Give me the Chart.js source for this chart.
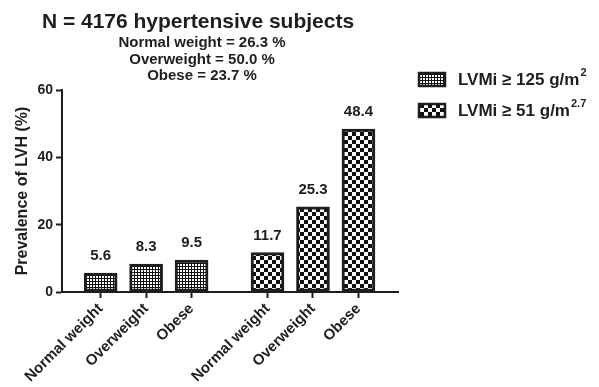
<!DOCTYPE html>
<html>
<head>
<meta charset="utf-8">
<script src="https://cdn.jsdelivr.net/npm/chart.js@4/dist/chart.umd.min.js"></script>
<style>
  html, body { margin: 0; padding: 0; background: #fff; }
  canvas { display: block; }
</style>
</head>
<body>
<canvas id="chart" width="599" height="387"></canvas>
<script>
// ---- data ----
const categories = ['Normal weight', 'Overweight', 'Obese'];
const lvmiBsaValues = [5.6, 8.3, 9.5];        // LVMi >= 125 g/m2
const lvmiHeightValues = [11.7, 25.3, 48.4];  // LVMi >= 51 g/m2.7
const seriesLabels = [['LVMi \u2265 125 g/m', '2'], ['LVMi \u2265 51 g/m', '2.7']];
const yTicks = [0, 20, 40, 60];
const titleText = 'N = 4176 hypertensive subjects';
const subtitleLines = ['Normal weight = 26.3 %', 'Overweight = 50.0 %', 'Obese = 23.7 %'];

// ---- layout constants ----
const FONT = "'Liberation Sans', Arial, Helvetica, sans-serif";
const INK = '#1e1e1e';
const GROUP_GAP = 0.67;          // extra slot width between the two groups
const W = 599, H = 387;
const PAD = { top: 90, right: 201, bottom: 2, left: 0 };
const PLOT_LEFT = 62, PLOT_BOTTOM = 292;

function slotOf(group, i) { return group * (categories.length + GROUP_GAP) + i + 1; }

// fill patterns
function makePattern(kind) {
  const c = document.createElement('canvas');
  const g = c.getContext('2d');
  if (kind === 'fine') {
    c.width = c.height = 3;
    g.fillStyle = '#111'; g.fillRect(0, 0, 3, 3);
    g.fillStyle = '#fff'; g.fillRect(0, 0, 2, 2);
  } else {
    c.width = c.height = 8;
    g.fillStyle = '#111'; g.fillRect(0, 0, 8, 8);
    g.fillStyle = '#fff'; g.fillRect(0, 0, 4, 4); g.fillRect(4, 4, 4, 4);
  }
  return document.getElementById('chart').getContext('2d').createPattern(c, 'repeat');
}
const patterns = [makePattern('fine'), makePattern('checker')];

const seriesValues = [lvmiBsaValues, lvmiHeightValues];
const datasets = seriesValues.map((vals, g) => ({
  label: seriesLabels[g].join(''),
  data: vals.map((v, i) => ({ x: slotOf(g, i), y: v })),
  backgroundColor: patterns[g],
  borderColor: INK,
  borderWidth: 3,
  borderSkipped: false,
  barThickness: 33,
  grouped: false
}));
const tickSlots = [];
const tickNames = [];
seriesValues.forEach((vals, g) => vals.forEach((v, i) => { tickSlots.push(slotOf(g, i)); tickNames.push(categories[i]); }));

// value labels above each bar
const valueLabels = {
  id: 'valueLabels',
  afterDatasetsDraw(chart) {
    const ctx = chart.ctx;
    ctx.save();
    ctx.font = `bold 15px ${FONT}`;
    ctx.fillStyle = INK;
    ctx.textAlign = 'center';
    ctx.textBaseline = 'middle';
    chart.data.datasets.forEach((ds, d) => {
      chart.getDatasetMeta(d).data.forEach((el, i) => {
        ctx.fillText(ds.data[i].y.toFixed(1), el.x, el.y - 17);
      });
    });
    ctx.restore();
  }
};

// headline text and legend with superscript units
const headerAndLegend = {
  id: 'headerAndLegend',
  afterDraw(chart) {
    const ctx = chart.ctx;
    ctx.save();
    ctx.fillStyle = INK;
    ctx.textAlign = 'center';
    ctx.textBaseline = 'middle';
    ctx.font = `bold 21px ${FONT}`;
    ctx.fillText(titleText, 198, 22);
    ctx.font = `bold 15px ${FONT}`;
    subtitleLines.forEach((t, i) => ctx.fillText(t, 202, 43 + i * 16.5));

    const rowsY = [80, 111];
    seriesLabels.forEach((lab, g) => {
      const y = rowsY[g];
      ctx.fillStyle = patterns[g];
      ctx.fillRect(419, y - 7, 26, 13);
      ctx.strokeStyle = INK;
      ctx.lineWidth = 2.5;
      ctx.strokeRect(419, y - 7, 26, 13);
      ctx.fillStyle = INK;
      ctx.textAlign = 'left';
      ctx.font = `bold 17px ${FONT}`;
      ctx.fillText(lab[0], 458, y);
      const w = ctx.measureText(lab[0]).width;
      ctx.font = `bold 11px ${FONT}`;
      ctx.fillText(lab[1], 458 + w + 1, y - 7);
    });
    ctx.restore();
  }
};

const lastSlot = tickSlots[tickSlots.length - 1];

new Chart(document.getElementById('chart'), {
  type: 'bar',
  data: { datasets },
  options: {
    responsive: false,
    animation: false,
    layout: { padding: PAD },
    plugins: { legend: { display: false }, title: { display: false }, tooltip: { enabled: false } },
    scales: {
      x: {
        type: 'linear',
        min: 0.15,
        max: lastSlot + 0.87,
        offset: false,
        grid: { offset: false, drawOnChartArea: false, drawTicks: true, tickLength: 6, tickColor: INK, tickWidth: 2 },
        border: { display: true, color: INK, width: 2 },
        afterBuildTicks(axis) { axis.ticks = tickSlots.map(v => ({ value: v })); },
        afterFit(scale) { scale.height = H - PLOT_BOTTOM - PAD.bottom; },
        ticks: {
          autoSkip: false,
          minRotation: 45,
          maxRotation: 45,
          padding: 2,
          color: INK,
          font: { family: FONT, size: 15, weight: 'bold' },
          callback: (v, i) => tickNames[i]
        }
      },
      y: {
        min: yTicks[0],
        max: yTicks[yTicks.length - 1],
        grid: { drawOnChartArea: false, drawTicks: true, tickLength: 6, tickColor: INK, tickWidth: 2 },
        border: { display: true, color: INK, width: 2 },
        afterBuildTicks(axis) { axis.ticks = yTicks.map(v => ({ value: v })); },
        afterFit(scale) { scale.width = PLOT_LEFT - PAD.left; },
        ticks: {
          padding: 3,
          color: INK,
          font: { family: FONT, size: 14, weight: 'bold' }
        },
        title: {
          display: true,
          text: 'Prevalence of LVH (%)',
          color: INK,
          font: { family: FONT, size: 16, weight: 'bold' },
          padding: { top: 13, bottom: 0 }
        }
      }
    }
  },
  plugins: [valueLabels, headerAndLegend]
});
</script>
</body>
</html>
